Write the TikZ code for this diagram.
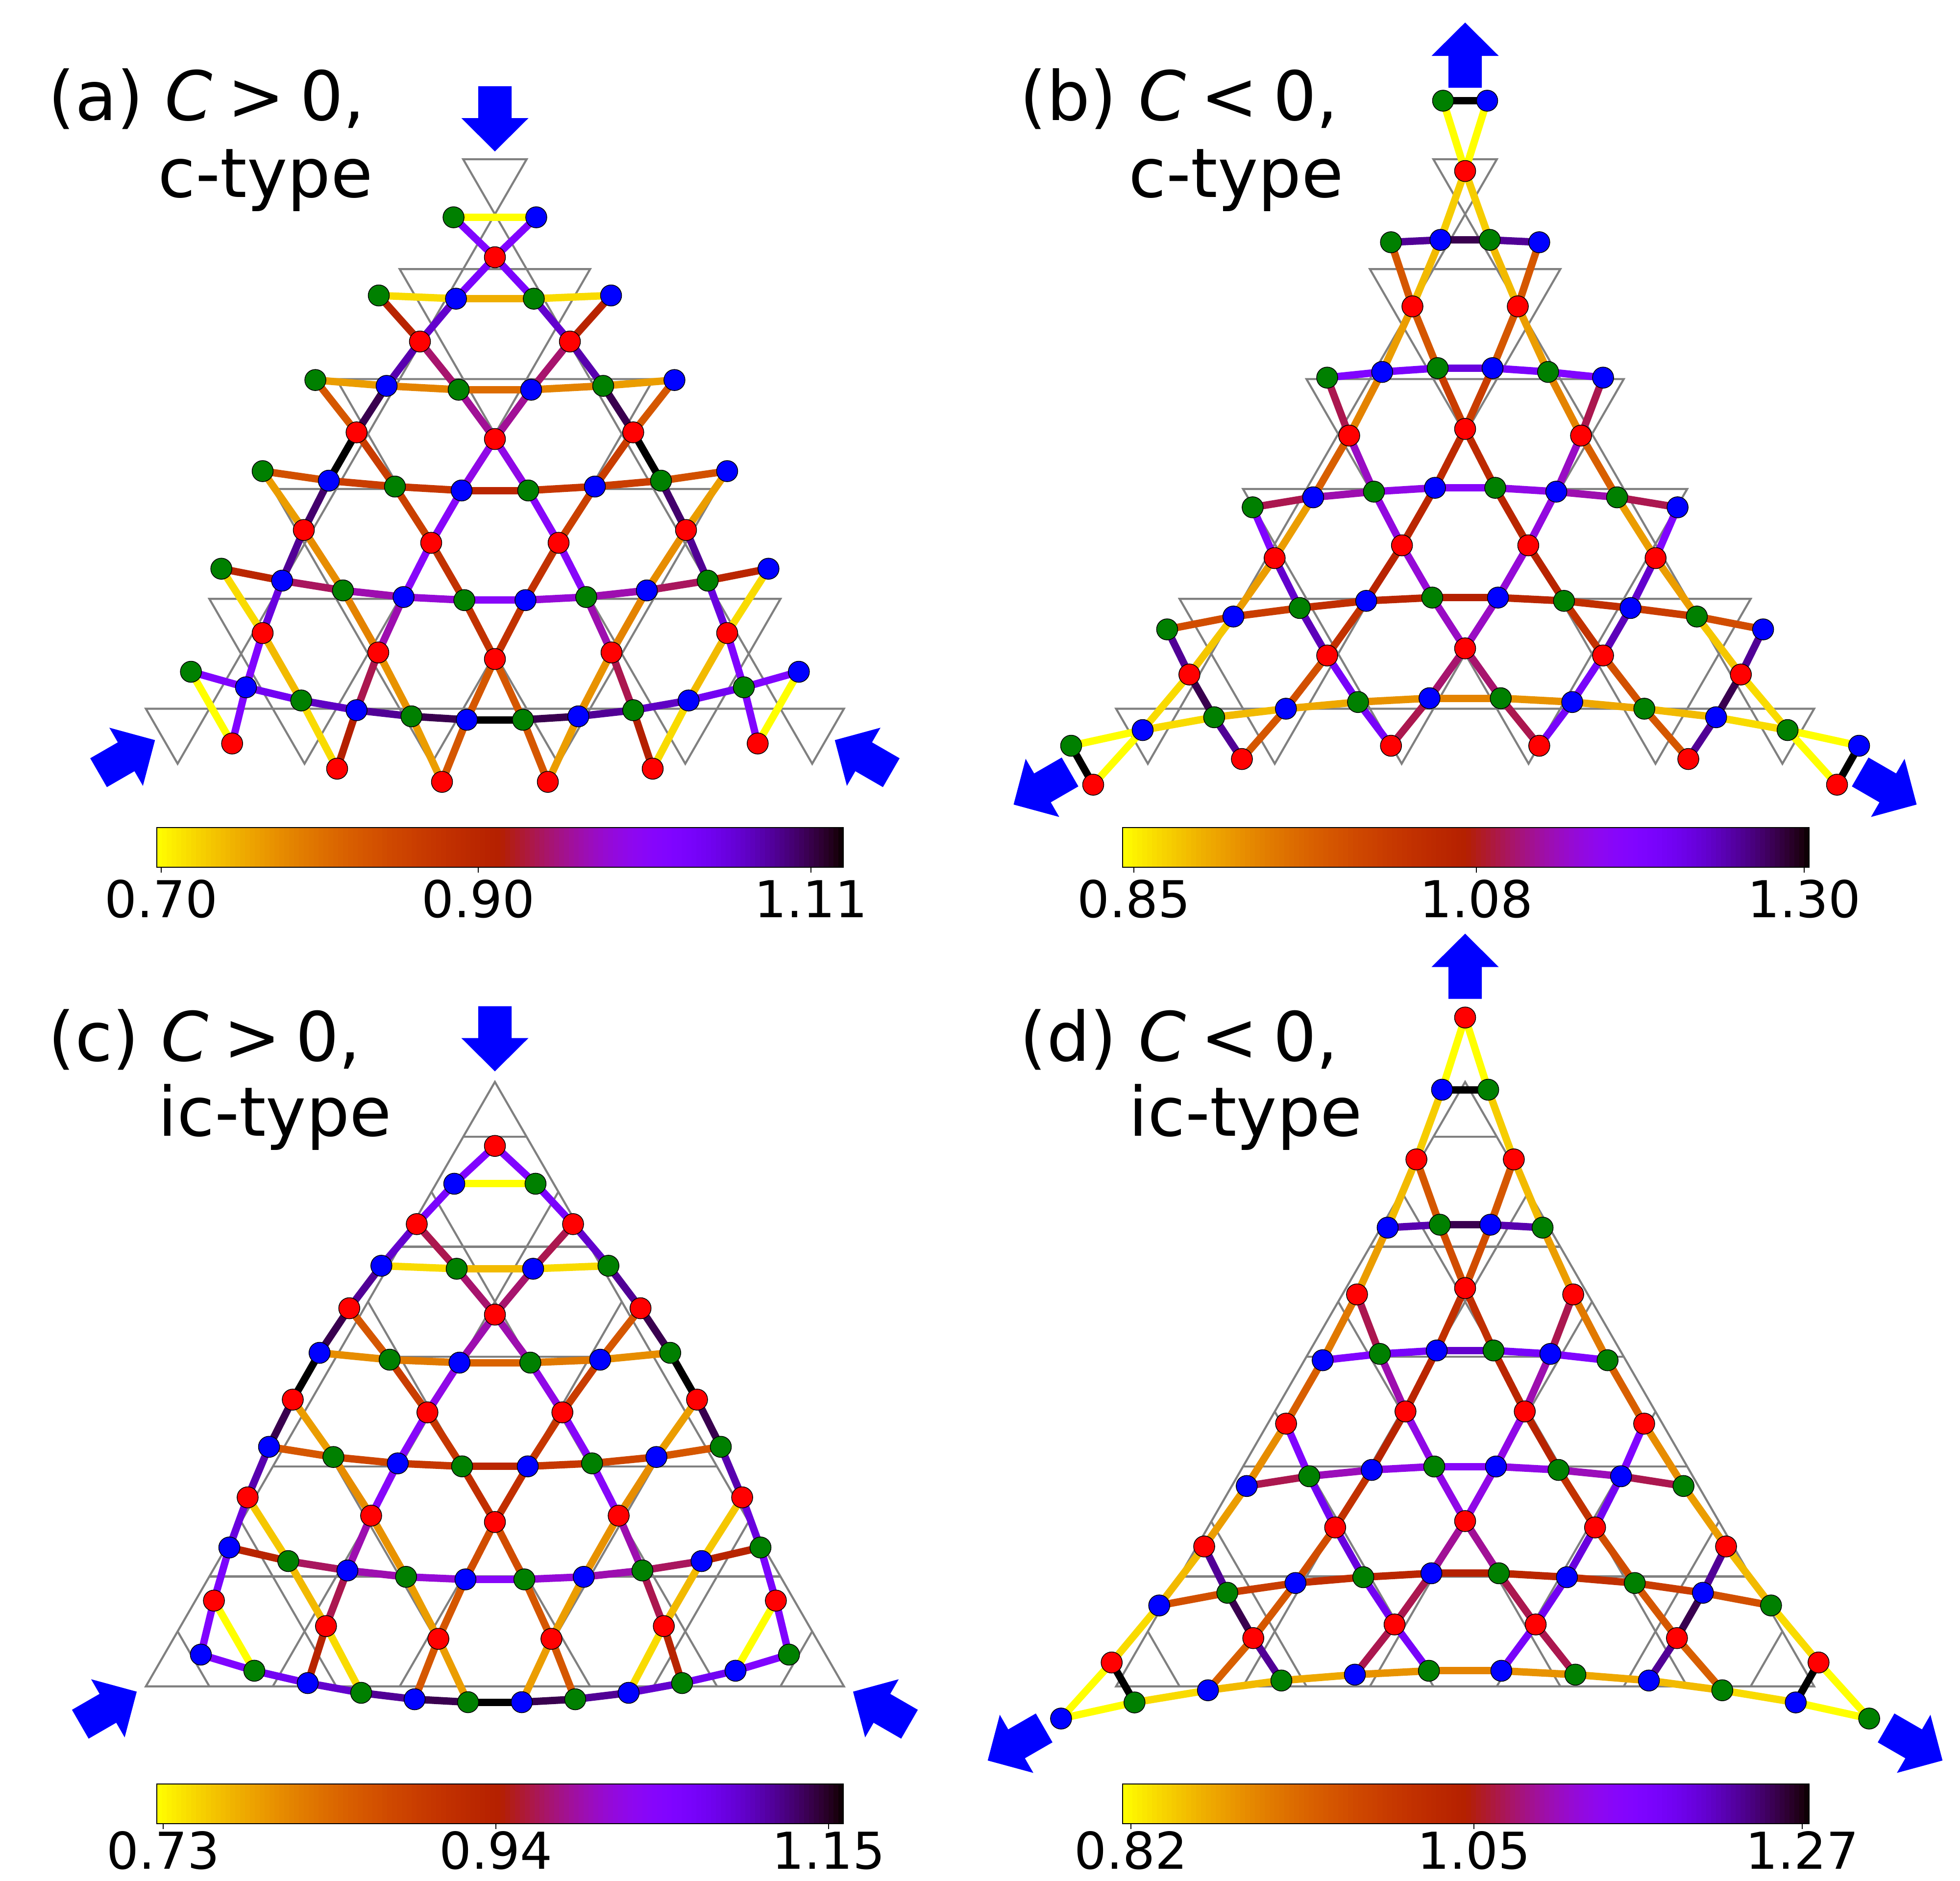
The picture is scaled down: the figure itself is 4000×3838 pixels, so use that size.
\documentclass[tikz,border=0pt]{standalone}
\usepackage{fontspec}
\setmainfont{DejaVu Sans}[ItalicFont={DejaVu Sans Oblique}]
\definecolor{bc}{rgb}{0,0,0}
\definecolor{mgreen}{rgb}{0,0.502,0}
\definecolor{mblue}{rgb}{0,0,1}
\definecolor{mred}{rgb}{1,0,0}
\definecolor{mgray}{rgb}{0.5,0.5,0.5}
\tikzset{
 grayl/.style={draw=mgray, line width=0.042cm},
 bond/.style={draw=bc, line width=0.15cm},
 dot/.style={circle, draw=black, line width=0.015cm, minimum size=0.43cm, inner sep=0pt},
 ttl/.style={anchor=base west, inner sep=0pt, font=\fontsize{39.6}{44}\selectfont},
 tck/.style={anchor=base, inner sep=0pt, font=\fontsize{29.5}{32}\selectfont},
 barrowst/.style={fill=mblue, draw=none},
}
% gnuplot_r colormap, t in [0,1]
\newcommand\cmap[1]{%
  \pgfmathsetmacro\cmx{1-(#1)}%
  \pgfmathsetmacro\cmr{sqrt(\cmx)}%
  \pgfmathsetmacro\cmg{\cmx*\cmx*\cmx}%
  \pgfmathsetmacro\cmb{max(0,sin(360*\cmx))}%
  \definecolor{bc}{rgb}{\cmr,\cmg,\cmb}}
\newcommand\defc[4]{%
  \edef\nA{\pnl c#1n#2}\edef\nC{\pnl c#1n\the\numexpr2*#1+1-#2\relax}%
  \coordinate (\nA) at (#3,#4);
  \coordinate (\nC) at ({2*\cxx-#3},#4);}
\newcommand\defr[4]{%
  \edef\nA{\pnl r#1n#2}\edef\nC{\pnl r#1n\the\numexpr#1+1-#2\relax}%
  \coordinate (\nA) at (#3,#4);
  \coordinate (\nC) at ({2*\cxx-#3},#4);}
\newcommand\cb[3]{%
  \cmap{#3}%
  \edef\nA{\pnl c#1n#2}%
  \edef\nB{\pnl c#1n\the\numexpr#2+1\relax}%
  \edef\nC{\pnl c#1n\the\numexpr2*#1+1-#2\relax}%
  \edef\nD{\pnl c#1n\the\numexpr2*#1-#2\relax}%
  \draw[bond] (\nA) -- (\nB) (\nC) -- (\nD);}
\newcommand\rb[5]{%
  \cmap{#5}%
  \edef\nA{\pnl r#1n#2}%
  \edef\nB{\pnl c#3n#4}%
  \edef\nC{\pnl r#1n\the\numexpr#1+1-#2\relax}%
  \edef\nD{\pnl c#3n\the\numexpr2*#3+1-#4\relax}%
  \draw[bond] (\nA) -- (\nB) (\nC) -- (\nD);}
\newcommand\drawdots{%
  \foreach \kk in {1,...,6}{%
    \pgfmathtruncatemacro\nn{2*\kk}%
    \foreach \jj in {1,...,\nn}{%
      \pgfmathtruncatemacro\pty{mod(\jj,2)}%
      \ifnum\pty=1 \node[dot,fill=\oddc] at (\pnl c\kk n\jj) {};%
      \else \node[dot,fill=\evenc] at (\pnl c\kk n\jj) {};\fi}%
    \foreach \ii in {1,...,\kk}{\node[dot,fill=mred] at (\pnl r\kk n\ii) {};}}}
\newcommand\grayflakeA[1]{%
  \foreach \rr in {1,...,6}{%
    \foreach \ii in {1,...,\rr}{%
      \pgfmathsetmacro\X{#1+(\ii-(\rr+1)/2)*259}%
      \pgfmathsetmacro\Y{325+(\rr-1)*224.3}%
      \draw[grayl] ({\X-64.75},\Y) -- ({\X+64.75},\Y) -- (\X,{\Y+112.15}) -- cycle;
      \ifnum\rr<6 \draw[grayl] (\X,{\Y+112.15}) -- ({\X-64.75},{\Y+224.3}) -- ({\X+64.75},{\Y+224.3}) -- cycle;\fi}}}
\newcommand\grayflakeC[1]{%
  \draw[grayl] (#1,2208.1) -- ({#1-712.25},3441.7) -- ({#1+712.25},3441.7) -- cycle;
  \foreach \jj in {1,...,5}{%
    \pgfmathsetmacro\Y{3441.7-224.3*\jj}%
    \pgfmathsetmacro\H{(\Y-2208.1)/1.73205}%
    \draw[grayl] ({#1-\H},\Y) -- ({#1+\H},\Y);}
  \foreach \mm in {1,...,5}{%
    \pgfmathsetmacro\B{-712.25+259*\mm}%
    \pgfmathsetmacro\Ex{(\B+712.25)/2}%
    \pgfmathsetmacro\Ey{3441.7-(712.25-\B)*0.866025}%
    \draw[grayl] ({#1+(\B)},3441.7) -- ({#1+\Ex},\Ey);
    \draw[grayl] ({#1-(\B)},3441.7) -- ({#1-\Ex},\Ey);}}
% block arrow: centre x,y ; angle ; tail, head base, tip distances
\newcommand\barrow[6]{%
  \begin{scope}[shift={(#1,#2)},rotate=#3]
    \fill[barrowst] (#4,-34) -- (#5,-34) -- (#5,-68.5) -- (#6,0) -- (#5,68.5) -- (#5,34) -- (#4,34) -- cycle;
  \end{scope}}
\newcommand\arrows[5]{%
  \barrow{#1}{#2}{90}{#3}{#4}{#5}\barrow{#1}{#2}{210}{#3}{#4}{#5}\barrow{#1}{#2}{330}{#3}{#4}{#5}}
\newcommand\cbar[2]{%
  \foreach \ss in {0,...,139}{%
    \cmap{(\ss+0.5)/140}%
    \fill[bc] ({#1+10.007*\ss},#2) rectangle ({#1+10.007*\ss+10.6},{#2+81});}
  \draw[black,line width=0.025cm] (#1,#2) rectangle ({#1+1401},{#2+81});}
\newcommand\ctick[4]{% x, bar bottom y, baseline y, label
  \draw[black,line width=0.02cm] (#1,#2) -- (#1,{#2+11});
  \node[tck] at (#1,#3) {#4};}
\newcommand\rel[1]{\hspace{0.22em}#1\hspace{0.22em}}
\begin{document}
\begin{tikzpicture}[x=0.01cm,y=-0.01cm]
\useasboundingbox (0,0) rectangle (4000,3838);
\fill[white] (0,0) rectangle (4000,3838);

%================ panel (a)
\begin{scope}
\def\pnl{a}\def\cxx{1010}\def\oddc{mgreen}\def\evenc{mblue}
\grayflakeA{1010}
\defc{1}{1}{925.6}{443.5}
\defr{1}{1}{1010}{525}
\defc{2}{1}{773}{603} \defc{2}{2}{930.6}{609.6}
\defr{2}{1}{857}{697}
\defc{3}{1}{643.6}{775.6} \defc{3}{2}{789}{787.5} \defc{3}{3}{936}{795.4}
\defr{3}{1}{727.7}{882.4} \defr{3}{2}{1010}{896}
\defc{4}{1}{536}{961.5} \defc{4}{2}{671}{981} \defc{4}{3}{806}{993} \defc{4}{4}{942}{1001}
\defr{4}{1}{620}{1081.7} \defr{4}{2}{880}{1107.8}
\defc{5}{1}{451.7}{1160.7} \defc{5}{2}{575.7}{1185} \defc{5}{3}{700}{1205} \defc{5}{4}{823.6}{1218.5} \defc{5}{5}{947.6}{1224.8}
\defr{5}{1}{536}{1292} \defr{5}{2}{772}{1331.6} \defr{5}{3}{1010}{1345}
\defc{6}{1}{389.7}{1371} \defc{6}{2}{502}{1402.7} \defc{6}{3}{614.7}{1429.6} \defc{6}{4}{727.7}{1449.4} \defc{6}{5}{839.7}{1462} \defc{6}{6}{952.7}{1469}
\defr{6}{1}{473.7}{1517.4} \defr{6}{2}{688}{1568.8} \defr{6}{3}{902}{1595.7}
\cb{1}{1}{0}
\cb{2}{1}{0.05} \cb{2}{2}{0.12}
\cb{3}{1}{0.15} \cb{3}{2}{0.2} \cb{3}{3}{0.25}
\cb{4}{1}{0.32} \cb{4}{2}{0.38} \cb{4}{3}{0.4} \cb{4}{4}{0.47}
\cb{5}{1}{0.47} \cb{5}{2}{0.56} \cb{5}{3}{0.62} \cb{5}{4}{0.66} \cb{5}{5}{0.72}
\cb{6}{1}{0.75} \cb{6}{2}{0.8} \cb{6}{3}{0.86} \cb{6}{4}{0.9} \cb{6}{5}{0.95} \cb{6}{6}{1}
\rb{1}{1}{1}{1}{0.75} \rb{1}{1}{2}{2}{0.77}
\rb{2}{1}{2}{1}{0.48} \rb{2}{1}{2}{2}{0.85} \rb{2}{1}{3}{2}{0.88} \rb{2}{1}{3}{3}{0.57}
\rb{3}{1}{3}{1}{0.3} \rb{3}{1}{3}{2}{0.95} \rb{3}{1}{4}{2}{1} \rb{3}{1}{4}{3}{0.38}
\rb{3}{2}{3}{3}{0.6} \rb{3}{2}{4}{4}{0.68}
\rb{4}{1}{4}{1}{0.15} \rb{4}{1}{4}{2}{0.93} \rb{4}{1}{5}{2}{0.9} \rb{4}{1}{5}{3}{0.18}
\rb{4}{2}{4}{3}{0.37} \rb{4}{2}{4}{4}{0.72} \rb{4}{2}{5}{4}{0.72} \rb{4}{2}{5}{5}{0.42}
\rb{5}{1}{5}{1}{0.05} \rb{5}{1}{5}{2}{0.83} \rb{5}{1}{6}{2}{0.75} \rb{5}{1}{6}{3}{0.1}
\rb{5}{2}{5}{3}{0.2} \rb{5}{2}{5}{4}{0.62} \rb{5}{2}{6}{4}{0.55} \rb{5}{2}{6}{5}{0.17}
\rb{5}{3}{5}{5}{0.42} \rb{5}{3}{6}{6}{0.3}
\rb{6}{1}{6}{1}{0} \rb{6}{1}{6}{2}{0.75}
\rb{6}{2}{6}{3}{0.05} \rb{6}{2}{6}{4}{0.5}
\rb{6}{3}{6}{5}{0.15} \rb{6}{3}{6}{6}{0.3}
\drawdots
\arrows{1010}{1110}{934}{869}{801}
\cbar{320}{1689}
\ctick{329}{1770}{1872}{0.70}\ctick{976}{1770}{1872}{0.90}\ctick{1655}{1770}{1872}{1.11}
\node[ttl] (ta1) at (98,245) {(a) \textit{C}\rel{>}0,};
\node[ttl] (ta2) at (322,402) {c-type};
\end{scope}

%================ panel (b)
\begin{scope}
\def\pnl{b}\def\cxx{2990}\def\oddc{mgreen}\def\evenc{mblue}
\grayflakeA{2990}
\defc{1}{1}{2945}{205.5}
\defr{1}{1}{2990}{349}
\defc{2}{1}{2838.7}{494.4} \defc{2}{2}{2939.7}{489.6}
\defr{2}{1}{2882.5}{625.3}
\defc{3}{1}{2708.5}{770.7} \defc{3}{2}{2820.7}{759.1} \defc{3}{3}{2934}{751.3}
\defr{3}{1}{2753.4}{889} \defr{3}{2}{2990}{875.4}
\defc{4}{1}{2556.4}{1035.4} \defc{4}{2}{2679.9}{1015} \defc{4}{3}{2803.9}{1003.4} \defc{4}{4}{2928.5}{995.6}
\defr{4}{1}{2601.3}{1139} \defr{4}{2}{2861.1}{1113}
\defc{5}{1}{2381.9}{1284.5} \defc{5}{2}{2517.1}{1258.3} \defc{5}{3}{2652.4}{1240.9} \defc{5}{4}{2788.2}{1226.3} \defc{5}{5}{2922.9}{1219.6}
\defr{5}{1}{2427.3}{1376.6} \defr{5}{2}{2708.5}{1337.8} \defr{5}{3}{2990}{1323.3}
\defc{6}{1}{2186}{1522} \defc{6}{2}{2331.9}{1490} \defc{6}{3}{2477.8}{1463.8} \defc{6}{4}{2624.3}{1446.4} \defc{6}{5}{2771.4}{1432.8} \defc{6}{6}{2917.3}{1425}
\defr{6}{1}{2231}{1601.5} \defr{6}{2}{2534.5}{1549.1} \defr{6}{3}{2838.7}{1522}
\cb{1}{1}{1}
\cb{2}{1}{0.9} \cb{2}{2}{0.95}
\cb{3}{1}{0.75} \cb{3}{2}{0.77} \cb{3}{3}{0.83}
\cb{4}{1}{0.55} \cb{4}{2}{0.62} \cb{4}{3}{0.68} \cb{4}{4}{0.72}
\cb{5}{1}{0.33} \cb{5}{2}{0.38} \cb{5}{3}{0.43} \cb{5}{4}{0.47} \cb{5}{5}{0.5}
\cb{6}{1}{0} \cb{6}{2}{0.05} \cb{6}{3}{0.1} \cb{6}{4}{0.13} \cb{6}{5}{0.17} \cb{6}{6}{0.2}
\rb{1}{1}{1}{1}{0} \rb{1}{1}{2}{2}{0.07}
\rb{2}{1}{2}{1}{0.3} \rb{2}{1}{2}{2}{0.1} \rb{2}{1}{3}{2}{0.15} \rb{2}{1}{3}{3}{0.3}
\rb{3}{1}{3}{1}{0.55} \rb{3}{1}{3}{2}{0.2} \rb{3}{1}{4}{2}{0.28} \rb{3}{1}{4}{3}{0.64}
\rb{3}{2}{3}{3}{0.38} \rb{3}{2}{4}{4}{0.45}
\rb{4}{1}{4}{1}{0.75} \rb{4}{1}{4}{2}{0.15} \rb{4}{1}{5}{2}{0.15} \rb{4}{1}{5}{3}{0.85}
\rb{4}{2}{4}{3}{0.67} \rb{4}{2}{4}{4}{0.47} \rb{4}{2}{5}{4}{0.48} \rb{4}{2}{5}{5}{0.66}
\rb{5}{1}{5}{1}{0.9} \rb{5}{1}{5}{2}{0.08} \rb{5}{1}{6}{2}{0.05} \rb{5}{1}{6}{3}{0.95}
\rb{5}{2}{5}{3}{0.87} \rb{5}{2}{5}{4}{0.42} \rb{5}{2}{6}{4}{0.32} \rb{5}{2}{6}{5}{0.78}
\rb{5}{3}{5}{5}{0.64} \rb{5}{3}{6}{6}{0.57}
\rb{6}{1}{6}{1}{1} \rb{6}{1}{6}{2}{0}
\rb{6}{2}{6}{3}{0.9} \rb{6}{2}{6}{4}{0.3}
\rb{6}{3}{6}{5}{0.78} \rb{6}{3}{6}{6}{0.55}
\drawdots
\arrows{2990}{1110}{931}{996}{1064}
\cbar{2291}{1689}
\ctick{2314}{1770}{1872}{0.85}\ctick{3013}{1770}{1872}{1.08}\ctick{3682}{1770}{1872}{1.30}
\node[ttl] (tb1) at (2081,245) {(b) \textit{C}\rel{<}0,};
\node[ttl] (tb2) at (2303,402) {c-type};
\end{scope}

%================ panel (c)
\begin{scope}
\def\pnl{c}\def\cxx{1010}\def\oddc{mblue}\def\evenc{mgreen}
\grayflakeC{1010}
\defr{1}{1}{1010}{2338.7}
\defc{1}{1}{927.1}{2415.9}
\defr{2}{1}{850.5}{2498.3}
\defc{2}{1}{778.3}{2583.3} \defc{2}{2}{932}{2589.4}
\defr{3}{1}{712.8}{2670} \defr{3}{2}{1010}{2683}
\defc{3}{1}{652.2}{2761} \defc{3}{2}{795.2}{2775} \defc{3}{3}{937.7}{2781}
\defr{4}{1}{597.5}{2856.5} \defr{4}{2}{872.3}{2882.5}
\defc{4}{1}{549}{2952.8} \defc{4}{2}{680.4}{2973.6} \defc{4}{3}{811.7}{2986.6} \defc{4}{4}{943}{2992.7}
\defr{5}{1}{505.4}{3056} \defr{5}{2}{757.4}{3093.3} \defr{5}{3}{1010}{3106.3}
\defc{5}{1}{468}{3158.3} \defc{5}{2}{588.3}{3186} \defc{5}{3}{709}{3205.2} \defc{5}{4}{828.7}{3218.2} \defc{5}{5}{949.9}{3223.4}
\defr{6}{1}{436.6}{3266.7} \defr{6}{2}{665.3}{3318.7} \defr{6}{3}{894.6}{3344.7}
\defc{6}{1}{409.9}{3376.9} \defc{6}{2}{519}{3409.8} \defc{6}{3}{628}{3435} \defc{6}{4}{737.1}{3454.9} \defc{6}{5}{846.1}{3468} \defc{6}{6}{955.2}{3474}
\cb{1}{1}{0}
\cb{2}{1}{0.05} \cb{2}{2}{0.1}
\cb{3}{1}{0.18} \cb{3}{2}{0.22} \cb{3}{3}{0.27}
\cb{4}{1}{0.3} \cb{4}{2}{0.35} \cb{4}{3}{0.4} \cb{4}{4}{0.47}
\cb{5}{1}{0.48} \cb{5}{2}{0.56} \cb{5}{3}{0.62} \cb{5}{4}{0.66} \cb{5}{5}{0.72}
\cb{6}{1}{0.75} \cb{6}{2}{0.8} \cb{6}{3}{0.85} \cb{6}{4}{0.9} \cb{6}{5}{0.95} \cb{6}{6}{1}
\rb{1}{1}{1}{1}{0.75}
\rb{2}{1}{1}{1}{0.77} \rb{2}{1}{2}{1}{0.85} \rb{2}{1}{2}{2}{0.55}
\rb{3}{1}{2}{1}{0.9} \rb{3}{1}{3}{1}{0.95} \rb{3}{1}{3}{2}{0.3}
\rb{3}{2}{2}{2}{0.57} \rb{3}{2}{3}{3}{0.62}
\rb{4}{1}{3}{1}{1} \rb{4}{1}{4}{1}{0.95} \rb{4}{1}{4}{2}{0.15}
\rb{4}{2}{3}{2}{0.38} \rb{4}{2}{3}{3}{0.68} \rb{4}{2}{4}{3}{0.72} \rb{4}{2}{4}{4}{0.4}
\rb{5}{1}{4}{1}{0.88} \rb{5}{1}{5}{1}{0.83} \rb{5}{1}{5}{2}{0.08}
\rb{5}{2}{4}{2}{0.18} \rb{5}{2}{4}{3}{0.72} \rb{5}{2}{5}{3}{0.62} \rb{5}{2}{5}{4}{0.17}
\rb{5}{3}{4}{4}{0.43} \rb{5}{3}{5}{5}{0.33}
\rb{6}{1}{5}{1}{0.77} \rb{6}{1}{6}{1}{0.75} \rb{6}{1}{6}{2}{0}
\rb{6}{2}{5}{2}{0.1} \rb{6}{2}{5}{3}{0.55} \rb{6}{2}{6}{3}{0.48} \rb{6}{2}{6}{4}{0.05}
\rb{6}{3}{5}{4}{0.15} \rb{6}{3}{5}{5}{0.3} \rb{6}{3}{6}{5}{0.3} \rb{6}{3}{6}{6}{0.15}
\drawdots
\arrows{1010}{3030.5}{977}{912}{844}
\cbar{320}{3641}
\ctick{333}{3722}{3814}{0.73}\ctick{1012}{3722}{3814}{0.94}\ctick{1691}{3722}{3814}{1.15}
\node[ttl] (tc1) at (98,2165) {(c) \textit{C}\rel{>}0,};
\node[ttl] (tc2) at (322,2318) {ic-type};
\end{scope}

%================ panel (d)
\begin{scope}
\def\pnl{d}\def\cxx{2990}\def\oddc{mblue}\def\evenc{mgreen}
\grayflakeC{2990}
\defr{1}{1}{2990}{2076.7}
\defc{1}{1}{2942.9}{2224}
\defr{2}{1}{2890.6}{2366.2}
\defc{2}{1}{2831.9}{2505.5} \defc{2}{2}{2938.4}{2499.5}
\defr{3}{1}{2769.4}{2641.8} \defr{3}{2}{2990}{2628.9}
\defc{3}{1}{2699.3}{2776.1} \defc{3}{2}{2816}{2763.2} \defc{3}{3}{2932}{2756.2}
\defr{4}{1}{2624.6}{2905.5} \defr{4}{2}{2868.3}{2880.6}
\defc{4}{1}{2544.3}{3032.8} \defc{4}{2}{2671.8}{3012.9} \defc{4}{3}{2799.4}{3000} \defc{4}{4}{2927}{2993}
\defr{5}{1}{2457.5}{3156.2} \defr{5}{2}{2724.8}{3117.4} \defr{5}{3}{2990}{3104.4}
\defc{5}{1}{2365.7}{3276.6} \defc{5}{2}{2504.7}{3250.7} \defc{5}{3}{2643.8}{3230.8} \defc{5}{4}{2782.2}{3218.9} \defc{5}{5}{2921.2}{3210.9}
\defr{6}{1}{2268.7}{3393} \defr{6}{2}{2557.7}{3343.2} \defr{6}{3}{2846}{3315.4}
\defc{6}{1}{2165.4}{3507.4} \defc{6}{2}{2315.3}{3474.5} \defc{6}{3}{2465.2}{3449.7} \defc{6}{4}{2615}{3429.8} \defc{6}{5}{2765}{3417.8} \defc{6}{6}{2916.1}{3409.9}
\cb{1}{1}{1}
\cb{2}{1}{0.88} \cb{2}{2}{0.95}
\cb{3}{1}{0.75} \cb{3}{2}{0.78} \cb{3}{3}{0.85}
\cb{4}{1}{0.55} \cb{4}{2}{0.63} \cb{4}{3}{0.68} \cb{4}{4}{0.72}
\cb{5}{1}{0.32} \cb{5}{2}{0.38} \cb{5}{3}{0.43} \cb{5}{4}{0.47} \cb{5}{5}{0.5}
\cb{6}{1}{0} \cb{6}{2}{0.05} \cb{6}{3}{0.1} \cb{6}{4}{0.13} \cb{6}{5}{0.17} \cb{6}{6}{0.2}
\rb{1}{1}{1}{1}{0}
\rb{2}{1}{1}{1}{0.07} \rb{2}{1}{2}{1}{0.1} \rb{2}{1}{2}{2}{0.3}
\rb{3}{1}{2}{1}{0.15} \rb{3}{1}{3}{1}{0.22} \rb{3}{1}{3}{2}{0.55}
\rb{3}{2}{2}{2}{0.33} \rb{3}{2}{3}{3}{0.43}
\rb{4}{1}{3}{1}{0.28} \rb{4}{1}{4}{1}{0.18} \rb{4}{1}{4}{2}{0.75}
\rb{4}{2}{3}{2}{0.62} \rb{4}{2}{3}{3}{0.47} \rb{4}{2}{4}{3}{0.48} \rb{4}{2}{4}{4}{0.68}
\rb{5}{1}{4}{1}{0.15} \rb{5}{1}{5}{1}{0.1} \rb{5}{1}{5}{2}{0.9}
\rb{5}{2}{4}{2}{0.8} \rb{5}{2}{4}{3}{0.42} \rb{5}{2}{5}{3}{0.33} \rb{5}{2}{5}{4}{0.83}
\rb{5}{3}{4}{4}{0.68} \rb{5}{3}{5}{5}{0.6}
\rb{6}{1}{5}{1}{0.05} \rb{6}{1}{6}{1}{0} \rb{6}{1}{6}{2}{1}
\rb{6}{2}{5}{2}{0.95} \rb{6}{2}{5}{3}{0.3} \rb{6}{2}{6}{3}{0.28} \rb{6}{2}{6}{4}{0.9}
\rb{6}{3}{5}{4}{0.8} \rb{6}{3}{5}{5}{0.55} \rb{6}{3}{6}{5}{0.55} \rb{6}{3}{6}{6}{0.78}
\drawdots
\arrows{2990}{3030.5}{992}{1057}{1125}
\cbar{2291}{3641}
\ctick{2308}{3722}{3814}{0.82}\ctick{3008}{3722}{3814}{1.05}\ctick{3678}{3722}{3814}{1.27}
\node[ttl] (td1) at (2081,2165) {(d) \textit{C}\rel{<}0,};
\node[ttl] (td2) at (2303,2318) {ic-type};
\end{scope}
\end{tikzpicture}
\end{document}
